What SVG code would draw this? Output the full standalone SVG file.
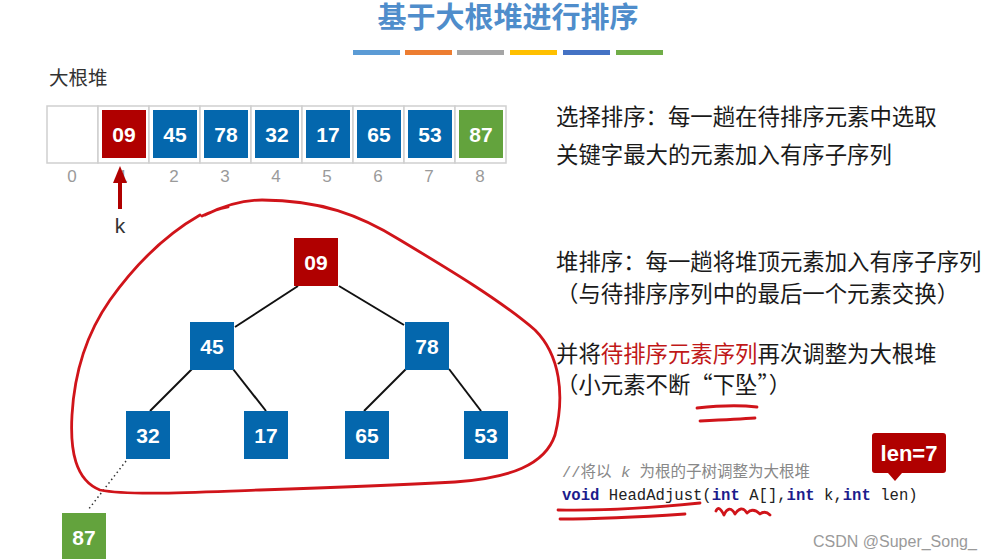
<svg xmlns="http://www.w3.org/2000/svg" width="990" height="559" viewBox="0 0 990 559">
<style>
.cjk{font-family:"Noto Sans CJK SC","Noto Sans",sans-serif}
.num{font-family:"Liberation Sans",Arial,sans-serif;font-weight:bold;font-size:21px;fill:#fff;text-anchor:middle}
.idx{font-family:"Liberation Sans",Arial,sans-serif;font-size:17px;fill:#9a9a9a;text-anchor:middle}
.red{fill:#b00000}
.blue{fill:#0467ad}
.green{fill:#63a33d}
.cell{fill:#fff;stroke:#cfcfcf;stroke-width:1.5}
.edge{stroke:#111;stroke-width:2;fill:none}
.ink{stroke:#d0141a;stroke-width:2.8;fill:none;stroke-linecap:round;stroke-linejoin:round}
.body{font-size:22.4px;fill:#1a1a1a}
.code{font-family:"Liberation Mono","DejaVu Sans Mono",monospace;font-size:15.6px;fill:#222}
.kw{fill:#1c1c8c;font-weight:bold}
</style>
<rect width="990" height="559" fill="#fff"/>
<g id="title">
<text x="508" y="28" class="cjk" font-size="29" font-weight="bold" fill="#4f8dcb" text-anchor="middle">基于大根堆进行排序</text>
<rect x="353" y="50" width="47" height="5" fill="#5b9bd5"/>
<rect x="405" y="50" width="47" height="5" fill="#ed7d31"/>
<rect x="457" y="50" width="47" height="5" fill="#a5a5a5"/>
<rect x="510" y="50" width="47" height="5" fill="#ffc000"/>
<rect x="563" y="50" width="47" height="5" fill="#4472c4"/>
<rect x="616" y="50" width="47" height="5" fill="#70ad47"/>
</g>
<g id="array">
<text x="49" y="85" class="cjk" font-size="19.5" fill="#333">大根堆</text>
<rect class="cell" x="47" y="106" width="51" height="57"/>
<rect class="cell" x="98" y="106" width="51" height="57"/>
<rect class="cell" x="149" y="106" width="51" height="57"/>
<rect class="cell" x="200" y="106" width="51" height="57"/>
<rect class="cell" x="251" y="106" width="51" height="57"/>
<rect class="cell" x="302" y="106" width="51" height="57"/>
<rect class="cell" x="353" y="106" width="51" height="57"/>
<rect class="cell" x="404" y="106" width="51" height="57"/>
<rect class="cell" x="455" y="106" width="51" height="57"/>
<rect class="red" x="102" y="110" width="44" height="48"/>
<rect class="blue" x="153" y="110" width="44" height="48"/>
<rect class="blue" x="204" y="110" width="44" height="48"/>
<rect class="blue" x="255" y="110" width="44" height="48"/>
<rect class="blue" x="306" y="110" width="44" height="48"/>
<rect class="blue" x="357" y="110" width="44" height="48"/>
<rect class="blue" x="408" y="110" width="44" height="48"/>
<rect class="green" x="459" y="110" width="44" height="48"/>
<text class="num" x="124" y="142">09</text>
<text class="num" x="175" y="142">45</text>
<text class="num" x="226" y="142">78</text>
<text class="num" x="277" y="142">32</text>
<text class="num" x="328" y="142">17</text>
<text class="num" x="379" y="142">65</text>
<text class="num" x="430" y="142">53</text>
<text class="num" x="481" y="142">87</text>
<text class="idx" x="72" y="182">0</text>
<text class="idx" x="123" y="182">1</text>
<text class="idx" x="174" y="182">2</text>
<text class="idx" x="225" y="182">3</text>
<text class="idx" x="276" y="182">4</text>
<text class="idx" x="327" y="182">5</text>
<text class="idx" x="378" y="182">6</text>
<text class="idx" x="429" y="182">7</text>
<text class="idx" x="480" y="182">8</text>
</g>
<g id="pointer-k">
<line x1="120" y1="209" x2="120" y2="180" stroke="#b00000" stroke-width="4"/>
<polygon points="113,183 127,183 120,166" fill="#b00000"/>
<text x="120" y="233" font-family="Liberation Sans,Arial,sans-serif" font-size="21" fill="#333" text-anchor="middle">k</text>
</g>
<g id="connectors">
<line class="edge" x1="298" y1="286" x2="235" y2="327"/>
<line class="edge" x1="339" y1="286" x2="404" y2="325"/>
<line class="edge" x1="192" y1="369" x2="150" y2="411"/>
<line class="edge" x1="233" y1="369" x2="266" y2="411"/>
<line class="edge" x1="406" y1="369" x2="364" y2="411"/>
<line class="edge" x1="449" y1="369" x2="481" y2="411"/>
<line x1="126" y1="461" x2="88" y2="510" stroke="#333" stroke-width="1.5" stroke-dasharray="1.5,3"/>
</g>
<g id="node-09"><rect class="red" x="294" y="238" width="44" height="48"/><text class="num" x="316" y="270">09</text></g>
<g id="node-45"><rect class="blue" x="190" y="322" width="44" height="48"/><text class="num" x="212" y="354">45</text></g>
<g id="node-78"><rect class="blue" x="405" y="322" width="44" height="48"/><text class="num" x="427" y="354">78</text></g>
<g id="node-32"><rect class="blue" x="126" y="411" width="44" height="48"/><text class="num" x="148" y="443">32</text></g>
<g id="node-17"><rect class="blue" x="244" y="411" width="44" height="48"/><text class="num" x="266" y="443">17</text></g>
<g id="node-65"><rect class="blue" x="345" y="411" width="44" height="48"/><text class="num" x="367" y="443">65</text></g>
<g id="node-53"><rect class="blue" x="464" y="411" width="44" height="48"/><text class="num" x="486" y="443">53</text></g>
<g id="node-87"><rect class="green" x="62" y="513" width="44" height="48"/><text class="num" x="84" y="545">87</text></g>
<g id="ink">
<path class="ink" d="M202,216 C210,212 218,209 228,207 M205,215 C225,205 245,200 262,200 C320,200 360,215 400,240 C450,270 500,300 535,330 C560,355 565,395 555,435 C545,465 510,478 455,482 C380,486 320,488 260,490 C200,492 130,496 100,490 C75,480 70,450 72,415 C74,380 82,340 110,300 C135,265 165,235 200,215"/>
<path class="ink" d="M697,408 C715,406 740,405 757,407 M700,421 C720,420 740,419 755,418"/>
<path class="ink" d="M558,510 C600,511 650,508 700,503 M560,519 C600,519 640,517 685,514"/>
<path class="ink" d="M716,511 C718,506 721,509 724,515 C727,508 731,507 735,514 C739,508 743,507 747,513 C751,509 755,509 760,514 C764,511 767,512 770,515"/>
</g>
<g id="text-right" class="cjk body">
<text x="556" y="125">选择排序：每一趟在待排序元素中选取</text>
<text x="556" y="163">关键字最大的元素加入有序子序列</text>
<text x="556" y="270">堆排序：每一趟将堆顶元素加入有序子序列</text>
<text x="556" y="302">（与待排序序列中的最后一个元素交换）</text>
<text x="556" y="362">并将<tspan fill="#c01818">待排序元素序列</tspan>再次调整为大根堆</text>
<text x="556" y="393">（小元素不断“下坠”）</text>
</g>
<g id="code">
<text x="562" y="477" font-family="Liberation Mono,Noto Sans CJK SC,monospace" font-size="15.5" fill="#888">//将以 <tspan font-style="italic">k</tspan> 为根的子树调整为大根堆</text>
<text class="code" x="562" y="500"><tspan class="kw">void</tspan> HeadAdjust(<tspan class="kw">int</tspan> A[],<tspan class="kw">int</tspan> k,<tspan class="kw">int</tspan> len)</text>
</g>
<g id="callout-len">
<path d="M875,433 H943 Q946,433 946,436 V470 Q946,473 943,473 H902 L895,481 L888,473 H875 Q872,473 872,470 V436 Q872,433 875,433 Z" fill="#b00000"/>
<text x="909" y="461" font-family="Liberation Sans,Arial,sans-serif" font-weight="bold" font-size="22" fill="#fff" text-anchor="middle">len=7</text>
</g>
<text x="813" y="547" font-family="Liberation Sans,Arial,sans-serif" font-size="16" fill="#9a9a9a">CSDN @Super_Song_</text>
</svg>
